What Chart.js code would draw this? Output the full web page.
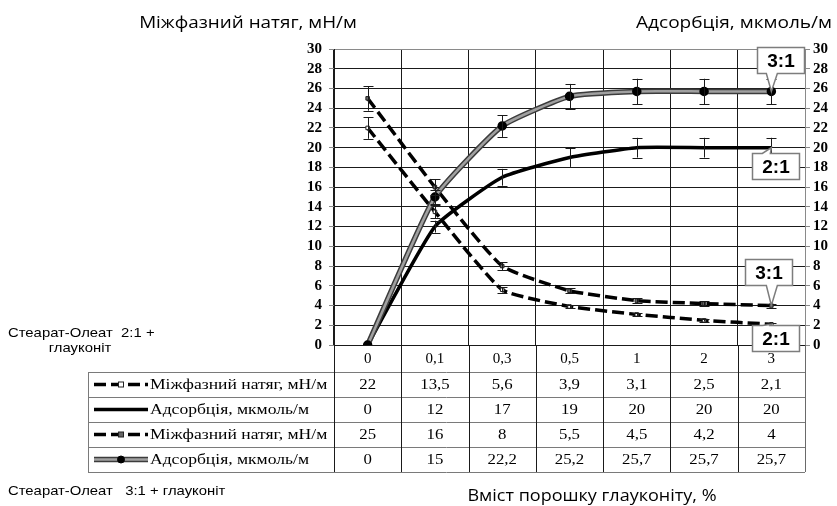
<!DOCTYPE html>
<html>
<head>
<meta charset="utf-8">
<script src="https://cdn.jsdelivr.net/npm/chart.js@4.4.1/dist/chart.umd.min.js"></script>
<style>
  html, body { margin: 0; padding: 0; background: #fff; }
  #wrap { position: relative; width: 837px; height: 506px; }
</style>
</head>
<body>
<div id="wrap"><canvas id="chart" width="837" height="506"></canvas></div>
<script>
// glauconite powder content, %
const categories = ['0', '0,1', '0,3', '0,5', '1', '2', '3'];

// stearate-oleate 2:1
const tension21 = [22, 13.5, 5.6, 3.9, 3.1, 2.5, 2.1];
const adsorb21 = [0, 12, 17, 19, 20, 20, 20];
// stearate-oleate 3:1
const tension31 = [25, 16, 8, 5.5, 4.5, 4.2, 4];
const adsorb31 = [0, 15, 22.2, 25.2, 25.7, 25.7, 25.7];

const yMin = 0, yMax = 30, yStep = 2;
const errPercent = 5;   // error bars, % of value

const SERIF = '"Liberation Serif", "Times New Roman", serif';
const SANS = '"Liberation Sans", Arial, sans-serif';
const TITLE = '"Open Sans", "Noto Sans", sans-serif';

const DASH = [12, 5];

const datasets = [
  {
    label: 'Міжфазний натяг, мН/м', data: tension21, yAxisID: 'y',
    borderColor: '#000', borderWidth: 3.5, borderDash: DASH,
    pointStyle: 'rect', pointRadius: 2.5, pointBackgroundColor: '#fff',
    pointBorderColor: '#222', pointBorderWidth: 1,
    errBars: true, tableRow: 0, callout: { text: '2:1', dx: -19, dy: 1, notch: 'top' }, order: 2
  },
  {
    label: 'Адсорбція, мкмоль/м', data: adsorb21, yAxisID: 'y2',
    borderColor: '#000', borderWidth: 3.5, pointRadius: 0,
    errBars: true, tableRow: 1, callout: { text: '2:1', dx: -19, dy: 5, notch: 'top' }, order: 3
  },
  {
    label: 'Міжфазний натяг, мН/м', data: tension31, yAxisID: 'y',
    borderColor: '#000', borderWidth: 3.5, borderDash: DASH,
    pointStyle: 'rect', pointRadius: 2.5, pointBackgroundColor: '#666',
    pointBorderColor: '#222', pointBorderWidth: 1,
    errBars: true, tableRow: 2, callout: { text: '3:1', dx: -26, dy: -47, notch: 'bottom' }, order: 2
  },
  {
    label: 'Адсорбція, мкмоль/м', data: adsorb31, yAxisID: 'y2',
    borderColor: '#a0a0a0', borderWidth: 2.5, pointStyle: 'circle', pointRadius: 3.5,
    pointBackgroundColor: '#000', pointBorderColor: '#000',
    errBars: true, tableRow: 3, outline: '#3c3c3c', callout: { text: '3:1', dx: -14, dy: -44, notch: 'bottom' }, order: 0
  },
  // dark edge under the grey adsorption line
  {
    label: '', data: adsorb31, yAxisID: 'y2',
    borderColor: '#3c3c3c', borderWidth: 5.5, pointRadius: 0, order: 1
  }
];

function fmt(v) { return String(v).replace('.', ','); }

// text drawn a little wider than the font's own proportions
function wideText(ctx, text, x, y, align, sx) {
  ctx.save();
  ctx.translate(x, y);
  ctx.scale(sx, 1);
  ctx.textAlign = align;
  ctx.fillText(text, 0, 0);
  ctx.restore();
}

const errorBars = {
  id: 'errorBars',
  afterDatasetsDraw(chart) {
    const ctx = chart.ctx;
    ctx.save();
    ctx.strokeStyle = '#1a1a1a';
    ctx.lineWidth = 1;
    chart.data.datasets.forEach((ds, di) => {
      if (!ds.errBars) return;
      const meta = chart.getDatasetMeta(di);
      const ys = chart.scales[ds.yAxisID];
      ds.data.forEach((v, i) => {
        if (!v) return;
        const e = v * errPercent / 100;
        const x = Math.round(meta.data[i].x) + 0.5;
        const y1 = ys.getPixelForValue(v + e), y2 = ys.getPixelForValue(v - e);
        ctx.beginPath();
        ctx.moveTo(x, y1); ctx.lineTo(x, y2);
        ctx.moveTo(x - 5, Math.round(y1) + 0.5); ctx.lineTo(x + 5, Math.round(y1) + 0.5);
        ctx.moveTo(x - 5, Math.round(y2) + 0.5); ctx.lineTo(x + 5, Math.round(y2) + 0.5);
        ctx.stroke();
      });
    });
    ctx.restore();
  }
};

function legendKey(ctx, ds, x1, x2, y) {
  const mid = (x1 + x2) / 2;
  ctx.save();
  if (ds.outline) {
    ctx.strokeStyle = ds.outline; ctx.lineWidth = 5.5;
    ctx.beginPath(); ctx.moveTo(x1, y); ctx.lineTo(x2, y); ctx.stroke();
  }
  ctx.strokeStyle = ds.borderColor;
  ctx.lineWidth = ds.borderWidth;
  ctx.setLineDash(ds.borderDash || []);
  ctx.beginPath(); ctx.moveTo(x1, y); ctx.lineTo(x2, y); ctx.stroke();
  ctx.setLineDash([]);
  if (ds.pointRadius) {
    const r = ds.pointRadius;
    ctx.fillStyle = ds.pointBackgroundColor;
    ctx.strokeStyle = ds.pointBorderColor;
    ctx.lineWidth = ds.pointBorderWidth || 1;
    if (ds.pointStyle === 'rect') {
      ctx.fillRect(mid - r, y - r, 2 * r, 2 * r);
      ctx.strokeRect(mid - r, y - r, 2 * r, 2 * r);
    } else {
      ctx.beginPath(); ctx.arc(mid, y, r, 0, Math.PI * 2); ctx.fill(); ctx.stroke();
    }
  }
  ctx.restore();
}

// data table under the plot, legend keys in the first column
const dataTable = {
  id: 'dataTable',
  afterDraw(chart) {
    const ctx = chart.ctx;
    const area = chart.chartArea;
    const xs = chart.scales.x;
    const half = (xs.getPixelForValue(1) - xs.getPixelForValue(0)) / 2;
    const colEdges = categories.map((c, i) => xs.getPixelForValue(i) - half);
    colEdges.push(xs.getPixelForValue(categories.length - 1) + half);
    const tableLeft = 88;
    const headBottom = xs.bottom;
    const rowH = 25;
    const rows = chart.data.datasets.filter(d => d.tableRow !== undefined)
      .sort((a, b) => a.tableRow - b.tableRow);
    const tableBottom = headBottom + rowH * rows.length;

    ctx.save();
    ctx.lineWidth = 1;
    // horizontal rules
    ctx.strokeStyle = '#7a7a7a';
    for (let k = 0; k <= rows.length; k++) {
      const y = Math.round(headBottom + k * rowH) + 0.5;
      ctx.beginPath(); ctx.moveTo(tableLeft, y); ctx.lineTo(colEdges[colEdges.length - 1], y); ctx.stroke();
    }
    ctx.beginPath(); ctx.moveTo(tableLeft + 0.5, headBottom); ctx.lineTo(tableLeft + 0.5, tableBottom); ctx.stroke();
    // column rules carry on from the plot grid
    colEdges.forEach((x, i) => {
      ctx.strokeStyle = i === colEdges.length - 1 ? '#6a6a6a' : '#1a1a1a';
      const xx = Math.round(x) + 0.5;
      ctx.beginPath(); ctx.moveTo(xx, area.bottom); ctx.lineTo(xx, tableBottom); ctx.stroke();
    });

    ctx.fillStyle = '#000';
    ctx.font = '15px ' + SERIF;
    ctx.textBaseline = 'middle';
    rows.forEach((ds, r) => {
      const cy = headBottom + rowH * (r + 0.5) + 1;
      legendKey(ctx, ds, tableLeft + 6, tableLeft + 60, cy - 1);
      wideText(ctx, ds.label, tableLeft + 62, cy, 'left', 1.17);
      ds.data.forEach((v, i) => wideText(ctx, fmt(v), xs.getPixelForValue(i), cy, 'center', 1.12));
    });
    ctx.restore();
  }
};

// boxed "2:1" / "3:1" labels pointing at the last point of a series
const callouts = {
  id: 'callouts',
  afterDraw(chart) {
    const ctx = chart.ctx;
    ctx.save();
    chart.data.datasets.forEach((ds, di) => {
      const c = ds.callout;
      if (!c) return;
      const meta = chart.getDatasetMeta(di);
      const pt = meta.data[ds.data.length - 1];
      const px = pt.x, py = pt.y;
      const w = 47, h = 26;
      const bx = Math.round(px + c.dx) + 0.5, by = Math.round(py + c.dy) + 0.5;
      const nx = px - bx;
      ctx.beginPath();
      if (c.notch === 'bottom') {
        ctx.moveTo(bx, by);
        ctx.lineTo(bx + w, by);
        ctx.lineTo(bx + w, by + h);
        ctx.lineTo(bx + nx + 6, by + h);
        ctx.lineTo(px, py);
        ctx.lineTo(bx + nx - 5, by + h);
        ctx.lineTo(bx, by + h);
      } else {
        ctx.moveTo(bx, by);
        ctx.lineTo(bx + nx - 9, by);
        ctx.lineTo(px, py);
        ctx.lineTo(bx + nx - 1, by);
        ctx.lineTo(bx + w, by);
        ctx.lineTo(bx + w, by + h);
        ctx.lineTo(bx, by + h);
      }
      ctx.closePath();
      ctx.fillStyle = '#fff';
      ctx.fill();
      ctx.strokeStyle = '#7d7d7d';
      ctx.lineWidth = 1.5;
      ctx.stroke();
      ctx.fillStyle = '#000';
      ctx.font = 'bold 19px ' + SANS;
      ctx.textAlign = 'center';
      ctx.textBaseline = 'middle';
      ctx.fillText(c.text, bx + w / 2, by + h / 2 + 1);
    });
    ctx.restore();
  }
};

// axis titles and series notes
const captions = {
  id: 'captions',
  afterDraw(chart) {
    const ctx = chart.ctx;
    ctx.save();
    ctx.fillStyle = '#000';
    ctx.textBaseline = 'middle';
    ctx.font = '17px ' + TITLE;
    wideText(ctx, 'Міжфазний натяг, мН/м', 248, 23, 'center', 1.11);
    wideText(ctx, 'Адсорбція, мкмоль/м', 832, 23, 'right', 1.12);
    wideText(ctx, 'Вміст порошку глауконіту, %', 592, 496, 'center', 1.06);

    ctx.font = '13.5px ' + SANS;
    wideText(ctx, 'Стеарат-Олеат  2:1 +', 8, 333, 'left', 1.1);
    wideText(ctx, 'глауконіт', 80, 348, 'center', 1.1);
    wideText(ctx, 'Стеарат-Олеат   3:1 + глауконіт', 8, 491, 'left', 1.1);
    ctx.restore();
  }
};

const yTickFont = { family: SERIF, size: 15, weight: 'bold' };

new Chart(document.getElementById('chart'), {
  type: 'line',
  data: { labels: categories, datasets: datasets },
  plugins: [errorBars, dataTable, callouts, captions],
  options: {
    responsive: false,
    animation: false,
    layout: { padding: { left: 296, right: 0, top: 49, bottom: 134 } },
    plugins: { legend: { display: false }, tooltip: { enabled: false } },
    elements: { line: { tension: 0.15 } },
    scales: {
      x: {
        offset: true,
        grid: {
          offset: true, drawTicks: false,
          color: ctx => ctx.index === categories.length ? '#8a8a8a' : '#1a1a1a'
        },
        border: { color: '#1a1a1a' },
        ticks: { padding: 5, color: '#000', font: { family: SERIF, size: 15 } },
        afterFit(scale) { scale.height = 27; }
      },
      y: {
        position: 'left', min: yMin, max: yMax,
        ticks: { stepSize: yStep, autoSkip: false, padding: 7, color: '#000', font: yTickFont },
        grid: {
          tickLength: 5, tickColor: '#8a8a8a',
          color: ctx => ctx.tick && ctx.tick.value === yMax ? '#8a8a8a' : '#1a1a1a'
        },
        border: { color: '#1a1a1a' },
        afterFit(scale) { scale.width = 38; }
      },
      y2: {
        position: 'right', min: yMin, max: yMax,
        ticks: { stepSize: yStep, autoSkip: false, padding: 3, color: '#000', font: yTickFont },
        grid: { drawOnChartArea: false, tickLength: 5, tickColor: '#8a8a8a' },
        border: { color: '#8a8a8a' },
        afterFit(scale) { scale.width = 32; }
      }
    }
  }
});
</script>
</body>
</html>
